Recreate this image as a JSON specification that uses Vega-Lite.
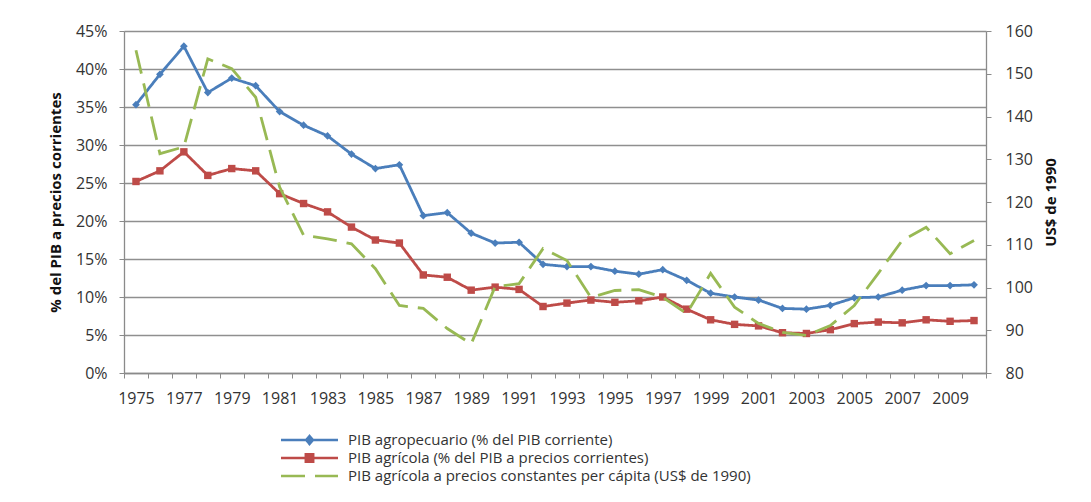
{
  "$schema": "https://vega.github.io/schema/vega-lite/v6.json",
  "width": 862,
  "height": 342,
  "autosize": {"type": "none"},
  "padding": {"left": 124, "top": 31, "right": 105, "bottom": 129},
  "background": "white",
  "config": {
    "font": "Open Sans",
    "view": {"stroke": null},
    "axis": {"labelFont": "Open Sans", "labelFontSize": 16, "labelColor": "#333333", "titleFont": "Open Sans", "titleFontSize": 15, "titleFontWeight": "bold", "titleColor": "#111111", "domainColor": "#8a8a8a", "tickColor": "#8a8a8a", "tickSize": 5, "gridColor": "#8f8f8f", "gridWidth": 1.3, "domainWidth": 1.3}
  },
  "datasets": {
    "pct": [
      {"anio": 1975, "serie": "PIB agropecuario (% del PIB corriente)", "valor": 35.3},
      {"anio": 1976, "serie": "PIB agropecuario (% del PIB corriente)", "valor": 39.3},
      {"anio": 1977, "serie": "PIB agropecuario (% del PIB corriente)", "valor": 43.0},
      {"anio": 1978, "serie": "PIB agropecuario (% del PIB corriente)", "valor": 36.9},
      {"anio": 1979, "serie": "PIB agropecuario (% del PIB corriente)", "valor": 38.8},
      {"anio": 1980, "serie": "PIB agropecuario (% del PIB corriente)", "valor": 37.8},
      {"anio": 1981, "serie": "PIB agropecuario (% del PIB corriente)", "valor": 34.4},
      {"anio": 1982, "serie": "PIB agropecuario (% del PIB corriente)", "valor": 32.6},
      {"anio": 1983, "serie": "PIB agropecuario (% del PIB corriente)", "valor": 31.2},
      {"anio": 1984, "serie": "PIB agropecuario (% del PIB corriente)", "valor": 28.8},
      {"anio": 1985, "serie": "PIB agropecuario (% del PIB corriente)", "valor": 26.9},
      {"anio": 1986, "serie": "PIB agropecuario (% del PIB corriente)", "valor": 27.4},
      {"anio": 1987, "serie": "PIB agropecuario (% del PIB corriente)", "valor": 20.7},
      {"anio": 1988, "serie": "PIB agropecuario (% del PIB corriente)", "valor": 21.1},
      {"anio": 1989, "serie": "PIB agropecuario (% del PIB corriente)", "valor": 18.4},
      {"anio": 1990, "serie": "PIB agropecuario (% del PIB corriente)", "valor": 17.1},
      {"anio": 1991, "serie": "PIB agropecuario (% del PIB corriente)", "valor": 17.2},
      {"anio": 1992, "serie": "PIB agropecuario (% del PIB corriente)", "valor": 14.3},
      {"anio": 1993, "serie": "PIB agropecuario (% del PIB corriente)", "valor": 14.0},
      {"anio": 1994, "serie": "PIB agropecuario (% del PIB corriente)", "valor": 14.0},
      {"anio": 1995, "serie": "PIB agropecuario (% del PIB corriente)", "valor": 13.4},
      {"anio": 1996, "serie": "PIB agropecuario (% del PIB corriente)", "valor": 13.0},
      {"anio": 1997, "serie": "PIB agropecuario (% del PIB corriente)", "valor": 13.6},
      {"anio": 1998, "serie": "PIB agropecuario (% del PIB corriente)", "valor": 12.2},
      {"anio": 1999, "serie": "PIB agropecuario (% del PIB corriente)", "valor": 10.5},
      {"anio": 2000, "serie": "PIB agropecuario (% del PIB corriente)", "valor": 10.0},
      {"anio": 2001, "serie": "PIB agropecuario (% del PIB corriente)", "valor": 9.6},
      {"anio": 2002, "serie": "PIB agropecuario (% del PIB corriente)", "valor": 8.5},
      {"anio": 2003, "serie": "PIB agropecuario (% del PIB corriente)", "valor": 8.4},
      {"anio": 2004, "serie": "PIB agropecuario (% del PIB corriente)", "valor": 8.9},
      {"anio": 2005, "serie": "PIB agropecuario (% del PIB corriente)", "valor": 9.9},
      {"anio": 2006, "serie": "PIB agropecuario (% del PIB corriente)", "valor": 10.0},
      {"anio": 2007, "serie": "PIB agropecuario (% del PIB corriente)", "valor": 10.9},
      {"anio": 2008, "serie": "PIB agropecuario (% del PIB corriente)", "valor": 11.5},
      {"anio": 2009, "serie": "PIB agropecuario (% del PIB corriente)", "valor": 11.5},
      {"anio": 2010, "serie": "PIB agropecuario (% del PIB corriente)", "valor": 11.6},
      {"anio": 1975, "serie": "PIB agrícola (% del PIB a precios corrientes)", "valor": 25.2},
      {"anio": 1976, "serie": "PIB agrícola (% del PIB a precios corrientes)", "valor": 26.6},
      {"anio": 1977, "serie": "PIB agrícola (% del PIB a precios corrientes)", "valor": 29.1},
      {"anio": 1978, "serie": "PIB agrícola (% del PIB a precios corrientes)", "valor": 26.0},
      {"anio": 1979, "serie": "PIB agrícola (% del PIB a precios corrientes)", "valor": 26.9},
      {"anio": 1980, "serie": "PIB agrícola (% del PIB a precios corrientes)", "valor": 26.6},
      {"anio": 1981, "serie": "PIB agrícola (% del PIB a precios corrientes)", "valor": 23.6},
      {"anio": 1982, "serie": "PIB agrícola (% del PIB a precios corrientes)", "valor": 22.3},
      {"anio": 1983, "serie": "PIB agrícola (% del PIB a precios corrientes)", "valor": 21.2},
      {"anio": 1984, "serie": "PIB agrícola (% del PIB a precios corrientes)", "valor": 19.2},
      {"anio": 1985, "serie": "PIB agrícola (% del PIB a precios corrientes)", "valor": 17.5},
      {"anio": 1986, "serie": "PIB agrícola (% del PIB a precios corrientes)", "valor": 17.1},
      {"anio": 1987, "serie": "PIB agrícola (% del PIB a precios corrientes)", "valor": 12.9},
      {"anio": 1988, "serie": "PIB agrícola (% del PIB a precios corrientes)", "valor": 12.6},
      {"anio": 1989, "serie": "PIB agrícola (% del PIB a precios corrientes)", "valor": 10.9},
      {"anio": 1990, "serie": "PIB agrícola (% del PIB a precios corrientes)", "valor": 11.3},
      {"anio": 1991, "serie": "PIB agrícola (% del PIB a precios corrientes)", "valor": 11.0},
      {"anio": 1992, "serie": "PIB agrícola (% del PIB a precios corrientes)", "valor": 8.75},
      {"anio": 1993, "serie": "PIB agrícola (% del PIB a precios corrientes)", "valor": 9.2},
      {"anio": 1994, "serie": "PIB agrícola (% del PIB a precios corrientes)", "valor": 9.6},
      {"anio": 1995, "serie": "PIB agrícola (% del PIB a precios corrientes)", "valor": 9.3},
      {"anio": 1996, "serie": "PIB agrícola (% del PIB a precios corrientes)", "valor": 9.5},
      {"anio": 1997, "serie": "PIB agrícola (% del PIB a precios corrientes)", "valor": 10.0},
      {"anio": 1998, "serie": "PIB agrícola (% del PIB a precios corrientes)", "valor": 8.4},
      {"anio": 1999, "serie": "PIB agrícola (% del PIB a precios corrientes)", "valor": 7.0},
      {"anio": 2000, "serie": "PIB agrícola (% del PIB a precios corrientes)", "valor": 6.4},
      {"anio": 2001, "serie": "PIB agrícola (% del PIB a precios corrientes)", "valor": 6.2},
      {"anio": 2002, "serie": "PIB agrícola (% del PIB a precios corrientes)", "valor": 5.3},
      {"anio": 2003, "serie": "PIB agrícola (% del PIB a precios corrientes)", "valor": 5.2},
      {"anio": 2004, "serie": "PIB agrícola (% del PIB a precios corrientes)", "valor": 5.7},
      {"anio": 2005, "serie": "PIB agrícola (% del PIB a precios corrientes)", "valor": 6.5},
      {"anio": 2006, "serie": "PIB agrícola (% del PIB a precios corrientes)", "valor": 6.7},
      {"anio": 2007, "serie": "PIB agrícola (% del PIB a precios corrientes)", "valor": 6.6},
      {"anio": 2008, "serie": "PIB agrícola (% del PIB a precios corrientes)", "valor": 7.0},
      {"anio": 2009, "serie": "PIB agrícola (% del PIB a precios corrientes)", "valor": 6.8},
      {"anio": 2010, "serie": "PIB agrícola (% del PIB a precios corrientes)", "valor": 6.9}
    ],
    "usd": [
      {"anio": 1975, "serie": "PIB agrícola a precios constantes per cápita (US$ de 1990)", "valor": 155.5},
      {"anio": 1976, "serie": "PIB agrícola a precios constantes per cápita (US$ de 1990)", "valor": 131.3},
      {"anio": 1977, "serie": "PIB agrícola a precios constantes per cápita (US$ de 1990)", "valor": 132.9},
      {"anio": 1978, "serie": "PIB agrícola a precios constantes per cápita (US$ de 1990)", "valor": 153.5},
      {"anio": 1979, "serie": "PIB agrícola a precios constantes per cápita (US$ de 1990)", "valor": 151.2},
      {"anio": 1980, "serie": "PIB agrícola a precios constantes per cápita (US$ de 1990)", "valor": 144.5},
      {"anio": 1981, "serie": "PIB agrícola a precios constantes per cápita (US$ de 1990)", "valor": 123.5},
      {"anio": 1982, "serie": "PIB agrícola a precios constantes per cápita (US$ de 1990)", "valor": 112.2},
      {"anio": 1983, "serie": "PIB agrícola a precios constantes per cápita (US$ de 1990)", "valor": 111.4},
      {"anio": 1984, "serie": "PIB agrícola a precios constantes per cápita (US$ de 1990)", "valor": 110.2},
      {"anio": 1985, "serie": "PIB agrícola a precios constantes per cápita (US$ de 1990)", "valor": 104.4},
      {"anio": 1986, "serie": "PIB agrícola a precios constantes per cápita (US$ de 1990)", "valor": 95.8},
      {"anio": 1987, "serie": "PIB agrícola a precios constantes per cápita (US$ de 1990)", "valor": 95.1},
      {"anio": 1988, "serie": "PIB agrícola a precios constantes per cápita (US$ de 1990)", "valor": 90.4},
      {"anio": 1989, "serie": "PIB agrícola a precios constantes per cápita (US$ de 1990)", "valor": 86.8},
      {"anio": 1990, "serie": "PIB agrícola a precios constantes per cápita (US$ de 1990)", "valor": 100.2},
      {"anio": 1991, "serie": "PIB agrícola a precios constantes per cápita (US$ de 1990)", "valor": 100.9},
      {"anio": 1992, "serie": "PIB agrícola a precios constantes per cápita (US$ de 1990)", "valor": 109.1},
      {"anio": 1993, "serie": "PIB agrícola a precios constantes per cápita (US$ de 1990)", "valor": 106.3},
      {"anio": 1994, "serie": "PIB agrícola a precios constantes per cápita (US$ de 1990)", "valor": 97.7},
      {"anio": 1995, "serie": "PIB agrícola a precios constantes per cápita (US$ de 1990)", "valor": 99.3},
      {"anio": 1996, "serie": "PIB agrícola a precios constantes per cápita (US$ de 1990)", "valor": 99.5},
      {"anio": 1997, "serie": "PIB agrícola a precios constantes per cápita (US$ de 1990)", "valor": 97.7},
      {"anio": 1998, "serie": "PIB agrícola a precios constantes per cápita (US$ de 1990)", "valor": 93.9},
      {"anio": 1999, "serie": "PIB agrícola a precios constantes per cápita (US$ de 1990)", "valor": 103.3},
      {"anio": 2000, "serie": "PIB agrícola a precios constantes per cápita (US$ de 1990)", "valor": 95.4},
      {"anio": 2001, "serie": "PIB agrícola a precios constantes per cápita (US$ de 1990)", "valor": 91.6},
      {"anio": 2002, "serie": "PIB agrícola a precios constantes per cápita (US$ de 1990)", "valor": 89.5},
      {"anio": 2003, "serie": "PIB agrícola a precios constantes per cápita (US$ de 1990)", "valor": 88.8},
      {"anio": 2004, "serie": "PIB agrícola a precios constantes per cápita (US$ de 1990)", "valor": 91.1},
      {"anio": 2005, "serie": "PIB agrícola a precios constantes per cápita (US$ de 1990)", "valor": 95.8},
      {"anio": 2006, "serie": "PIB agrícola a precios constantes per cápita (US$ de 1990)", "valor": 103.3},
      {"anio": 2007, "serie": "PIB agrícola a precios constantes per cápita (US$ de 1990)", "valor": 111.0},
      {"anio": 2008, "serie": "PIB agrícola a precios constantes per cápita (US$ de 1990)", "valor": 114.1},
      {"anio": 2009, "serie": "PIB agrícola a precios constantes per cápita (US$ de 1990)", "valor": 107.9},
      {"anio": 2010, "serie": "PIB agrícola a precios constantes per cápita (US$ de 1990)", "valor": 111.0}
    ]
  },
  "encoding": {
    "x": {
      "field": "anio", "type": "ordinal",
      "scale": {"type": "band", "paddingInner": 0, "paddingOuter": 0},
      "axis": {"title": null, "tickBand": "extent", "labelAngle": 0, "labelOverlap": false, "labelPadding": 12, "labelExpr": "datum.value % 2 == 1 ? datum.label : ''", "grid": false, "domain": true}
    },
    "color": {
      "field": "serie", "type": "nominal",
      "scale": {
        "domain": ["PIB agropecuario (% del PIB corriente)", "PIB agrícola (% del PIB a precios corrientes)", "PIB agrícola a precios constantes per cápita (US$ de 1990)"],
        "range": ["#4A7EBB", "#BE4B48", "#98B954"]
      },
      "legend": {
        "title": null, "orient": "none", "legendX": 155.5, "legendY": 401, "direction": "vertical",
        "padding": 0, "clipHeight": 16, "rowPadding": 2,
        "symbolSize": 3249, "symbolStrokeWidth": 2.5, "symbolOffset": 0,
        "labelFont": "Open Sans", "labelFontSize": 15, "labelColor": "#333333", "labelOffset": 8.5, "labelLimit": 600,
        "encode": {
          "symbols": {
            "update": {
              "shape": {"signal": "datum.value == 'PIB agropecuario (% del PIB corriente)' ? 'M-1,0H1M-0.12,0L0,-0.14L0.12,0L0,0.14Z' : (datum.value == 'PIB agrícola (% del PIB a precios corrientes)' ? 'M-1,0H1M-0.13,-0.13H0.13V0.13H-0.13Z' : 'M-1,0H1')"},
              "fill": {"scale": "color", "field": "value"},
              "stroke": {"scale": "color", "field": "value"}
            }
          }
        }
      }
    }
  },
  "layer": [
    {
      "data": {"name": "pct"},
      "encoding": {
        "y": {
          "field": "valor", "type": "quantitative",
          "scale": {"domain": [0, 45], "nice": false, "zero": true},
          "axis": {"title": "% del PIB a precios corrientes", "values": [0, 5, 10, 15, 20, 25, 30, 35, 40, 45], "labelExpr": "datum.value + '%'", "grid": true, "labelPadding": 12, "titleAngle": -90, "titleBaseline": "middle", "titleX": -69, "orient": "left"}
        }
      },
      "layer": [
        {
          "mark": {"type": "line", "strokeWidth": 2.8},
          "encoding": {
            "strokeDash": {"field": "serie", "type": "nominal", "scale": {"domain": ["PIB agropecuario (% del PIB corriente)", "PIB agrícola (% del PIB a precios corrientes)", "PIB agrícola a precios constantes per cápita (US$ de 1990)"], "range": [[1, 0], [1, 0], [24, 10]]}}
          }
        },
        {
          "mark": {"type": "point", "filled": true, "opacity": 1},
          "encoding": {
            "shape": {"condition": {"test": "datum.serie == 'PIB agropecuario (% del PIB corriente)'", "value": "diamond"}, "value": "square"},
            "size": {"condition": {"test": "datum.serie == 'PIB agropecuario (% del PIB corriente)'", "value": 60}, "value": 55}
          }
        }
      ]
    },
    {
      "data": {"name": "usd"},
      "mark": {"type": "line", "strokeWidth": 2.8},
      "encoding": {
        "y": {
          "field": "valor", "type": "quantitative",
          "scale": {"domain": [80, 160], "nice": false, "zero": false},
          "axis": {"title": "US$ de 1990", "orient": "right", "values": [80, 90, 100, 110, 120, 130, 140, 150, 160], "grid": false, "labelPadding": 14, "titleAngle": 270, "titleBaseline": "middle", "titleX": 64}
        },
        "strokeDash": {"field": "serie", "type": "nominal", "scale": {"domain": ["PIB agropecuario (% del PIB corriente)", "PIB agrícola (% del PIB a precios corrientes)", "PIB agrícola a precios constantes per cápita (US$ de 1990)"], "range": [[1, 0], [1, 0], [24, 10]]}}
      }
    }
  ],
  "resolve": {"scale": {"y": "independent"}}
}
